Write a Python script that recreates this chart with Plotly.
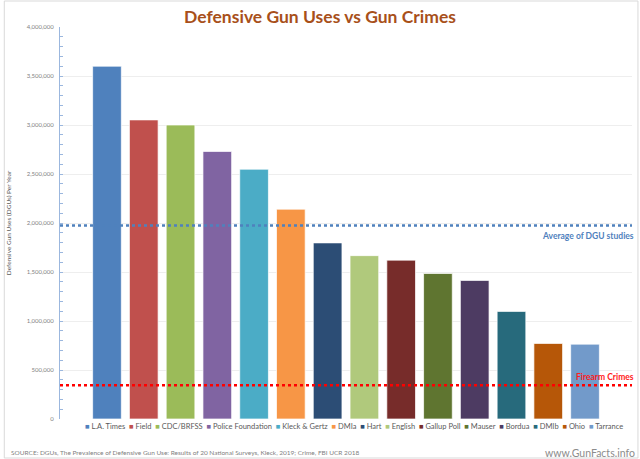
import plotly.graph_objects as go

# studies and their estimated defensive gun uses per year
studies = [
    "L.A. Times", "Field", "CDC/BRFSS", "Police Foundation", "Kleck & Gertz",
    "DMIa", "Hart", "English", "Gallup Poll", "Mauser", "Bordua", "DMIb",
    "Ohio", "Tarrance",
]
dgus = [
    3600000, 3052000, 3000000, 2730000, 2549000, 2141000, 1797000,
    1667000, 1621000, 1485000, 1414000, 1098000, 771000, 764000,
]
avg_dgu = 1975000
firearm_crimes = 344000

colors = [
    "#4F81BD", "#C0504D", "#9BBB59", "#8064A2", "#4BACC6", "#F79646",
    "#2C4D75", "#B0C97C", "#772C2A", "#5F7530", "#4D3B62", "#276A7C",
    "#B65708", "#729ACA",
]

FONT = "Lato, 'Open Sans', sans-serif"
W, H = 640, 459
ML, MR, MT, MB = 57, 8, 27, 40


def main() -> None:
    fig = go.Figure()

    for name, val, col in zip(studies, dgus, colors):
        fig.add_trace(
            go.Bar(
                x=[""],
                y=[val],
                name=name,
                marker=dict(color=col, line=dict(color="rgba(255,255,255,0.7)", width=1)),
            )
        )

    # reference lines
    fig.add_hline(y=avg_dgu, line=dict(color="#4F81BD", width=2.5, dash="dot"))
    fig.add_hline(y=firearm_crimes, line=dict(color="#FF0000", width=2.5, dash="dot"))

    fig.add_annotation(
        x=1, xref="paper", y=avg_dgu, yref="y", text="<b>Average of DGU studies</b>",
        xanchor="right", yanchor="top", yshift=-4, xshift=4, showarrow=False,
        font=dict(family=FONT, size=8.5, color="#4F81BD"),
    )
    fig.add_annotation(
        x=1, xref="paper", y=firearm_crimes, yref="y", text="<b>Firearm Crimes</b>",
        xanchor="right", yanchor="bottom", yshift=1, xshift=4, showarrow=False,
        font=dict(family=FONT, size=8.5, color="#FF2020"),
    )

    # legend drawn as one line of text
    legend_text = "  ".join(
        f"<span style='color:{c}'>■</span> {n}" for n, c in zip(studies, colors)
    )
    pw = W - ML - MR
    ph = H - MT - MB
    fig.add_annotation(
        x=(80 - ML) / pw, xref="paper", y=-7 / ph, yref="paper", text=legend_text,
        xanchor="left", yanchor="middle", showarrow=False,
        font=dict(family=FONT, size=7.5, color="#595959"),
    )

    fig.add_annotation(
        x=-(ML - 6) / pw, xref="paper", y=-33 / ph, yref="paper",
        text="SOURCE: DGUs, The Prevalence of Defensive Gun Use: Results of 20 National Surveys, Kleck, 2019; Crime, FBI UCR 2018",
        xanchor="left", yanchor="middle", showarrow=False,
        font=dict(family=FONT, size=6.5, color="#7F7F7F"),
    )
    fig.add_annotation(
        x=1 + (MR - 3) / pw, xref="paper", y=-34 / ph, yref="paper", text="www.GunFacts.info",
        xanchor="right", yanchor="middle", showarrow=False,
        font=dict(family=FONT, size=10.5, color="#8C8C8C"),
    )

    # light frame around the chart
    fig.add_shape(
        type="rect", xref="paper", yref="paper",
        x0=-(ML - 1) / pw, x1=1 + (MR - 2) / pw,
        y0=-(MB - 1) / ph, y1=1 + (MT - 1) / ph,
        line=dict(color="#D9D9D9", width=1),
    )

    fig.update_layout(
        width=W,
        height=H,
        barmode="group",
        bargap=0.1,
        bargroupgap=0.22,
        showlegend=False,
        plot_bgcolor="white",
        paper_bgcolor="white",
        margin=dict(l=ML, r=MR, t=MT, b=MB),
        title=dict(
            text="<b>Defensive Gun Uses vs Gun Crimes</b>",
            x=0.5, xanchor="center", y=1 - 17 / H, yanchor="middle",
            font=dict(family=FONT, size=17.5, color="#A8501A"),
        ),
        font=dict(family=FONT),
    )
    fig.update_xaxes(showticklabels=False, showgrid=False, zeroline=False)
    fig.update_yaxes(
        range=[0, 4000000],
        dtick=500000,
        tickformat=",",
        tickfont=dict(size=6, color="#7F7F7F"),
        gridcolor="#EEEEEE",
        gridwidth=1,
        zeroline=False,
        showline=True,
        linecolor="#9BB7DE",
        linewidth=1,
        ticks="inside",
        ticklen=3,
        tickcolor="#9BB7DE",
        ticklabelstandoff=4,
        minor=dict(dtick=100000, ticks="inside", ticklen=3, tickcolor="#9BB7DE", showgrid=False),
        title=dict(
            text="Defensive Gun Uses (DGUs) Per Year",
            font=dict(size=6.5, color="#595959"),
            standoff=14,
        ),
    )

    fig.write_html(
        "out.html",
        config={"displayModeBar": False},
        post_script="document.body.style.margin='0';",
    )


if __name__ == "__main__":
    main()
